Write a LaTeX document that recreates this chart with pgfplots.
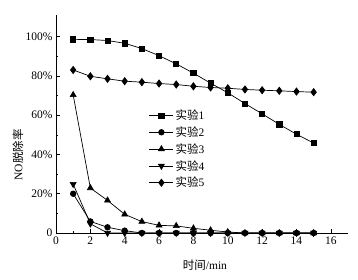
\documentclass[border=0pt]{standalone}
\usepackage{fontspec}
\setmainfont{Liberation Serif}
\newfontfamily\cjk{Noto Sans CJK SC}
\usepackage{pgfplots}
\pgfplotsset{compat=1.18}
\begin{document}
\begin{tikzpicture}
\useasboundingbox (0,0) rectangle (358bp,280bp);
\begin{axis}[
  at={(56bp,47bp)}, anchor=south west,
  scale only axis, width=292bp, height=218bp,
  axis lines*=left,
  xmin=0, xmax=17, ymin=0, ymax=111,
  xtick={0,2,4,6,8,10,12,14,16},
  minor x tick num=1,
  ytick={0,20,40,60,80,100},
  yticklabels={0,20\%,40\%,60\%,80\%,100\%},
  minor y tick num=1,
  tick align=inside,
  major tick length=4bp, minor tick length=2bp,
  tick style={black, line width=0.6pt},
  axis line style={line width=0.6pt},
  /pgf/number format/assume math mode=true,
  tick label style={font=\fontsize{11.5bp}{13bp}\selectfont},
  label style={font=\fontsize{11.5bp}{13bp}\selectfont},
  xlabel={{\cjk 时间}/min},
  xlabel style={at={(rel axis cs:0.51,-0.147)}, anchor=center},
  ylabel={NO{\cjk 脱除率}},
  ylabel style={at={(rel axis cs:-0.13,0.358)}, anchor=center},
  legend style={at={(rel axis cs:0.318,0.575)}, anchor=north west, draw=none, fill=none,
    font=\fontsize{11.5bp}{13bp}\selectfont, row sep=1.6bp, inner sep=0pt},
  legend cell align=left,
  legend image code/.code={\draw[mark repeat=2,mark phase=2] plot coordinates {(0bp,0bp) (12bp,0bp) (24bp,0bp)};},
]
\addplot[black, line width=0.7pt, mark=square*, mark size=2.6bp, mark options={solid, fill=black}] coordinates {
(1,98.6)(2,98.5)(3,98.0)(4,96.6)(5,93.9)(6,90.3)(7,86.1)(8,81.4)(9,76.3)(10,71.4)(11,65.9)(12,60.7)(13,55.3)(14,50.3)(15,45.8)};
\addlegendentry{{\cjk 实验}1}
\addplot[black, line width=0.7pt, mark=*, mark size=2.8bp, mark options={solid, fill=black}] coordinates {
(1,20.0)(2,5.9)(3,2.9)(4,1.2)(5,0)(6,0)(7,0)(8,0)(9,0)(10,0)(11,0)(12,0)(13,0)(14,0)(15,0)};
\addlegendentry{{\cjk 实验}2}
\addplot[black, line width=0.7pt, mark=triangle*, mark size=3.4bp, mark options={solid, fill=black}] coordinates {
(1,70.3)(2,22.9)(3,16.6)(4,9.5)(5,5.8)(6,3.9)(7,3.6)(8,2.4)(9,1.4)(10,0.5)(11,0)(12,0)(13,0)(14,0)(15,0)};
\addlegendentry{{\cjk 实验}3}
\addplot[black, line width=0.7pt, mark=triangle*, mark size=3.4bp, mark options={solid, fill=black, rotate=180}] coordinates {
(1,24.9)(2,4.7)(3,0)(4,0)(5,0)(6,0)(7,0)(8,0)(9,0)(10,0)(11,0)(12,0)(13,0)(14,0)(15,0)};
\addlegendentry{{\cjk 实验}4}
\addplot[black, line width=0.7pt, mark=diamond*, mark size=3.6bp, mark options={solid, fill=black}] coordinates {
(1,83.0)(2,79.8)(3,78.5)(4,77.3)(5,76.8)(6,76.1)(7,75.6)(8,74.7)(9,74.1)(10,73.7)(11,73.1)(12,72.7)(13,72.4)(14,72.0)(15,71.7)};
\addlegendentry{{\cjk 实验}5}
\end{axis}
\end{tikzpicture}
\end{document}
